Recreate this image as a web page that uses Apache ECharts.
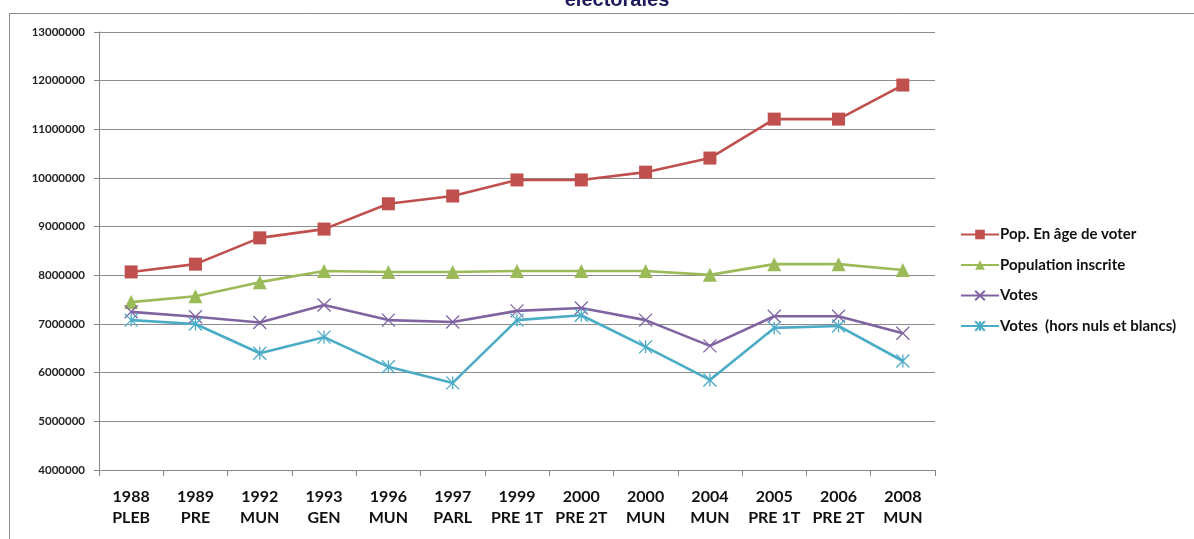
<!DOCTYPE html>
<html><head><meta charset="utf-8">
<script src="https://cdn.jsdelivr.net/npm/echarts@6/dist/echarts.min.js"></script>
<style>html,body{margin:0;padding:0;background:#fff}#c{width:1194px;height:539px}</style>
</head><body><div id="c"></div>
<script>
const categories = ['1988\nPLEB','1989\nPRE','1992\nMUN','1993\nGEN','1996\nMUN','1997\nPARL','1999\nPRE 1T','2000\nPRE 2T','2000\nMUN','2004\nMUN','2005\nPRE 1T','2006\nPRE 2T','2008\nMUN'];
const popAge = [8070000,8230000,8770000,8950000,9470000,9630000,9960000,9960000,10120000,10410000,11210000,11210000,11910000];
const popInscrite = [7450000,7570000,7860000,8090000,8070000,8070000,8090000,8090000,8090000,8010000,8230000,8230000,8110000];
const votes = [7250000,7150000,7030000,7390000,7080000,7040000,7270000,7330000,7080000,6550000,7160000,7160000,6810000];
const votesHors = [7080000,7000000,6400000,6730000,6120000,5790000,7080000,7180000,6530000,5850000,6920000,6960000,6240000];
const seriesNames = ['Pop. En âge de voter','Population inscrite','Votes','Votes  (hors nuls et blancs)'];

const xSym = 'path://M0,0L10,10M10,0L0,10';
const starSym = 'path://M5,0L5,10M0,0L10,10M10,0L0,10';
const chart = echarts.init(document.getElementById('c'));
function mk(name, data, color, symbol, size, stroke){
  return {
    name, type:'line', data, symbol, symbolSize:size,
    lineStyle:{color, width:2.6},
    itemStyle: stroke ? {color:'rgba(0,0,0,0)', borderColor:color, borderWidth:1.3} : {color, borderColor:color, borderWidth:0},
    emphasis:{disabled:true}
  };
}
chart.setOption({
  animation:false,
  textStyle:{fontFamily:'Lato'},
  title:{text:'electorales', left:612, textAlign:'center', top:-15,
    textStyle:{fontFamily:'Liberation Sans', fontWeight:'bold', fontSize:20, color:'#1c1c5c'}},
  graphic:[
    {type:'line', shape:{x1:9,y1:13.5,x2:1194,y2:13.5}, style:{stroke:'#8a8a8a', lineWidth:1}},
    {type:'line', shape:{x1:9.5,y1:13,x2:9.5,y2:539}, style:{stroke:'#8a8a8a', lineWidth:1}}
  ],
  legend:{
    orient:'vertical', left:955, top:222, itemGap:15.5, itemWidth:38, itemHeight:12,
    data:seriesNames,
    textStyle:{fontFamily:'Lato', fontSize:15, fontWeight:'bold', color:'#111', padding:[0,0,0,-4]}
  },
  grid:{left:99, right:259, top:32, bottom:69},
  xAxis:{
    type:'category', data:categories, boundaryGap:true,
    axisLine:{lineStyle:{color:'#868686', width:1}},
    axisTick:{show:true, length:6, lineStyle:{color:'#868686'}},
    axisLabel:{fontFamily:'Lato', fontSize:16, fontWeight:'bold', color:'#111', lineHeight:21, margin:16, interval:0}
  },
  yAxis:{
    type:'value', min:4000000, max:13000000, interval:1000000,
    axisLine:{show:true, lineStyle:{color:'#868686'}},
    axisTick:{show:true, length:5, lineStyle:{color:'#868686'}},
    splitLine:{lineStyle:{color:'#8c8c8c', width:1}},
    axisLabel:{fontFamily:'Lato', fontSize:11.5, fontWeight:'bold', color:'#222', margin:14, formatter:v=>String(v)}
  },
  series:[
    mk(seriesNames[0], popAge, '#C0504D', 'rect', 13, false),
    mk(seriesNames[1], popInscrite, '#9BBB59', 'triangle', 14, false),
    mk(seriesNames[2], votes, '#8064A2', xSym, 13, true),
    mk(seriesNames[3], votesHors, '#4BACC6', starSym, 13, true)
  ]
});
</script></body></html>
